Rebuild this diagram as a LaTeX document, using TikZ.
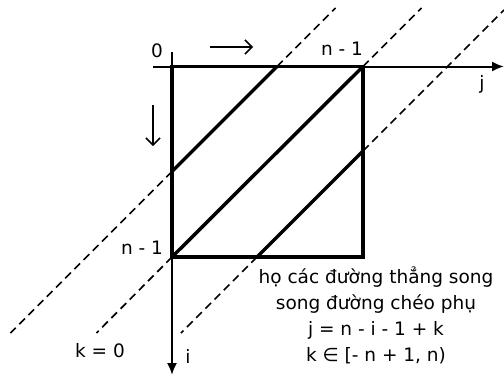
\documentclass[tikz,border=0pt]{standalone}
\usepackage{fontspec}
\setmainfont{DejaVu Sans}
\usetikzlibrary{arrows.meta}
\begin{document}
\begin{tikzpicture}[x=1pt,y=-1pt,
  lbl/.style={font=\fontsize{18.5}{25}\selectfont, inner sep=0pt, anchor=base},
  sq/.style={line width=3.5pt},
  axis/.style={line width=2pt,-{Latex[length=12pt,width=10pt]}},
  dsh/.style={line width=1.7pt,dash pattern=on 8pt off 5pt},
  dirarr/.style={line width=1.5pt,-{Straight Barb[length=7pt,width=14pt,line width=1.5pt]}}]
\useasboundingbox (0,0) rectangle (504,375);
% square corners
\coordinate (TL) at (172,66.5);
\coordinate (TR) at (363,66.5);
\coordinate (BR) at (363,257);
\coordinate (BL) at (172,257);
% diagonal intersections
\coordinate (A1) at (277,66.5);
\coordinate (A2) at (172,171.5);
\coordinate (C1) at (363,151);
\coordinate (C2) at (257,257);
% dashed ends
\coordinate (D1u) at (335.5,8);
\coordinate (D1d) at (10.5,333);
\coordinate (D2u) at (421.5,8);
\coordinate (D2d) at (96.5,333);
\coordinate (D3u) at (504,10);
\coordinate (D3d) at (181,333);
% axes
\coordinate (Xs) at (153,66.5);
\coordinate (Xe) at (504,66.5);
\coordinate (Ys) at (172,52);
\coordinate (Ye) at (172,375);
\draw[axis] (Xs) -- (Xe);
\draw[axis] (Ys) -- (Ye);
% square
\draw[sq] (TL) rectangle (BR);
% solid diagonals
\draw[sq] (A1) -- (A2);
\draw[sq] (TR) -- (BL);
\draw[sq] (C1) -- (C2);
% dashed extensions
\draw[dsh] (A1) -- (D1u);
\draw[dsh] (A2) -- (D1d);
\draw[dsh] (TR) -- (D2u);
\draw[dsh] (BL) -- (D2d);
\draw[dsh] (C1) -- (D3u);
\draw[dsh] (C2) -- (D3d);
% direction arrows
\coordinate (R1) at (210,47);
\coordinate (R2) at (253,47);
\coordinate (W1) at (153,105);
\coordinate (W2) at (153,146);
\draw[dirarr] (R1) -- (R2);
\draw[dirarr] (W1) -- (W2);
% labels
\node[lbl] (zero) at (157,57) {0};
\node[lbl] (ntop) at (342,55) {n - 1};
\node[lbl] (jl) at (482,89) {j};
\node[lbl] (nleft) at (142,254) {n - 1};
\node[lbl] (k0) at (100,357) {k = 0};
\node[lbl] (il) at (188,363) {i};
\node[lbl] (t1) at (376,283) {họ các đường thẳng song};
\node[lbl] (t2) at (376,309) {song đường chéo phụ};
\node[lbl] (t3) at (376,335) {j = n - i - 1 + k};
\node[lbl] (t4) at (376,361) {k ∈ [- n + 1, n)};
\end{tikzpicture}
\end{document}
